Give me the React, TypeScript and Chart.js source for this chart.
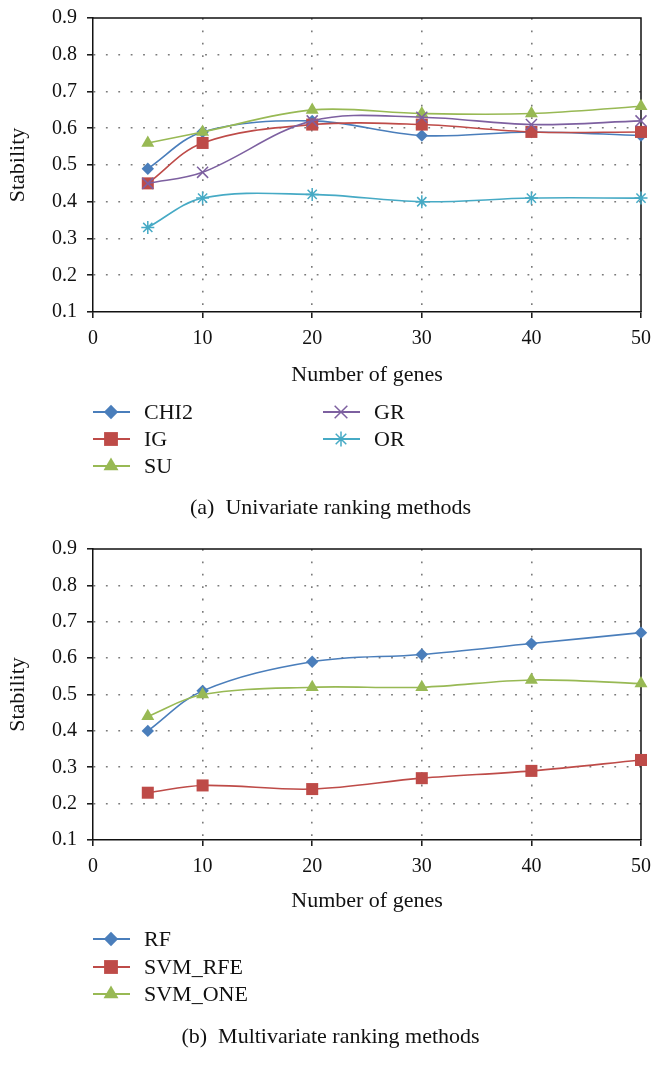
import React, { useEffect, useRef } from 'react';
import { Chart, registerables } from 'chart.js';

Chart.register(...registerables);

// ---------- data ----------
const genes = [5, 10, 20, 30, 40, 50];
const xTickValues = [0, 10, 20, 30, 40, 50];
const yTickValues = [0.1, 0.2, 0.3, 0.4, 0.5, 0.6, 0.7, 0.8, 0.9];

const uniLabels = ['CHI2', 'IG', 'SU', 'GR', 'OR'];
const chi2 = [0.49, 0.59, 0.62, 0.58, 0.59, 0.58];
const ig = [0.45, 0.56, 0.61, 0.61, 0.59, 0.59];
const su = [0.56, 0.59, 0.65, 0.64, 0.64, 0.66];
const gr = [0.45, 0.48, 0.62, 0.63, 0.61, 0.62];
const orv = [0.33, 0.41, 0.42, 0.40, 0.41, 0.41];

const multiLabels = ['RF', 'SVM_RFE', 'SVM_ONE'];
const rf = [0.40, 0.51, 0.59, 0.61, 0.64, 0.67];
const svmRfe = [0.23, 0.25, 0.24, 0.27, 0.29, 0.32];
const svmOne = [0.44, 0.50, 0.52, 0.52, 0.54, 0.53];

const xTitle = 'Number of genes';
const yTitle = 'Stability';
const captionA = '(a)  Univariate ranking methods';
const captionB = '(b)  Multivariate ranking methods';

// ---------- styles ----------
const FONT = "'Liberation Serif', 'Times New Roman', serif";
const BLUE = '#4A7EBB';
const RED = '#BE4B48';
const GREEN = '#98B954';
const PURPLE = '#7D60A0';
const CYAN = '#46AAC5';

type Marker = { style: string; r: number; color: string };
const uniMarkers: Marker[] = [
  { style: 'rectRot', r: 6.2, color: BLUE },
  { style: 'rect', r: 8.5, color: RED },
  { style: 'triangle', r: 7.5, color: GREEN },
  { style: 'crossRot', r: 7.8, color: PURPLE },
  { style: 'star', r: 6.5, color: CYAN },
];
const multiMarkers: Marker[] = [
  { style: 'rectRot', r: 6.2, color: BLUE },
  { style: 'rect', r: 8.5, color: RED },
  { style: 'triangle', r: 7.5, color: GREEN },
];
const LEGEND_MARKER_SCALE = 1.15;

Chart.defaults.font.family = FONT;

function drawMarker(ctx: CanvasRenderingContext2D, m: Marker, x: number, y: number, scale: number) {
  const r = m.r * scale;
  ctx.save();
  ctx.fillStyle = m.color;
  ctx.strokeStyle = m.color;
  ctx.lineWidth = 1.5;
  ctx.beginPath();
  if (m.style === 'rectRot') {
    ctx.moveTo(x - r, y);
    ctx.lineTo(x, y - r);
    ctx.lineTo(x + r, y);
    ctx.lineTo(x, y + r);
    ctx.closePath();
    ctx.fill();
  } else if (m.style === 'rect') {
    const s = r * Math.SQRT1_2;
    ctx.rect(x - s, y - s, 2 * s, 2 * s);
    ctx.fill();
  } else if (m.style === 'triangle') {
    let a = 0;
    ctx.moveTo(x + Math.sin(a) * r, y - Math.cos(a) * r);
    a += (2 * Math.PI) / 3;
    ctx.lineTo(x + Math.sin(a) * r, y - Math.cos(a) * r);
    a += (2 * Math.PI) / 3;
    ctx.lineTo(x + Math.sin(a) * r, y - Math.cos(a) * r);
    ctx.closePath();
    ctx.fill();
  } else {
    const d = r * Math.SQRT1_2;
    ctx.moveTo(x - d, y - d);
    ctx.lineTo(x + d, y + d);
    ctx.moveTo(x + d, y - d);
    ctx.lineTo(x - d, y + d);
    if (m.style === 'star') {
      ctx.moveTo(x, y - r);
      ctx.lineTo(x, y + r);
      ctx.moveTo(x - r, y);
      ctx.lineTo(x + r, y);
    }
    ctx.stroke();
  }
  ctx.restore();
}

const framePlugin = {
  id: 'frame',
  beforeDatasetsDraw(chart: any) {
    const { ctx, chartArea: a } = chart;
    ctx.save();
    ctx.strokeStyle = '#111';
    ctx.lineWidth = 1.5;
    ctx.beginPath();
    ctx.moveTo(a.left, a.top);
    ctx.lineTo(a.right, a.top);
    ctx.lineTo(a.right, a.bottom);
    ctx.stroke();
    ctx.restore();
  },
};

type LegendPos = { lineX1: number; lineX2: number; markX: number; textX: number; y: number };

const legendPlugin = {
  id: 'boxLegend',
  afterDraw(chart: any, _args: any, opts: any) {
    const { ctx } = chart;
    const positions: LegendPos[] = opts.positions || [];
    const markers: Marker[] = opts.markers || [];
    chart.data.datasets.forEach((ds: any, i: number) => {
      const p = positions[i];
      const m = markers[i];
      if (!p || !m) return;
      ctx.save();
      ctx.strokeStyle = m.color;
      ctx.lineWidth = 1.8;
      ctx.beginPath();
      ctx.moveTo(p.lineX1, p.y);
      ctx.lineTo(p.lineX2, p.y);
      ctx.stroke();
      ctx.restore();
      drawMarker(ctx, m, p.markX, p.y, LEGEND_MARKER_SCALE);
      ctx.save();
      ctx.fillStyle = '#111';
      ctx.font = `22px ${FONT}`;
      ctx.textAlign = 'left';
      ctx.textBaseline = 'middle';
      ctx.fillText(ds.label, p.textX, p.y + 1);
      ctx.restore();
    });
  },
};

function legendPositions(rowsY: number[], cols: number[][]): LegendPos[] {
  const colX = [
    { lineX1: 93, lineX2: 130, markX: 111, textX: 144 },
    { lineX1: 323, lineX2: 360, markX: 341, textX: 374 },
  ];
  return cols.map(([c, r]) => ({ ...colX[c], y: rowsY[r] }));
}

function makeConfig(
  labels: string[],
  series: number[][],
  markers: Marker[],
  positions: LegendPos[],
  padTop: number,
  xAxisHeight: number,
  padBottom: number
): any {
  const n = series.length;
  const datasets = series.map((vals, i) => {
    const m = markers[i];
    const lineStyle = m.style === 'crossRot' || m.style === 'star';
    return {
      label: labels[i],
      data: genes.map((g, k) => ({ x: g, y: vals[k] })),
      borderColor: m.color,
      backgroundColor: m.color,
      borderWidth: 1.6,
      pointStyle: m.style,
      pointRadius: m.r,
      pointHoverRadius: m.r,
      pointBackgroundColor: m.color,
      pointBorderColor: m.color,
      pointBorderWidth: lineStyle ? 1.5 : 0,
      tension: 0.35,
      fill: false,
      clip: false,
      order: n - i,
    };
  });
  const tickFont = { family: FONT, size: 20 };
  const titleFont = { family: FONT, size: 22 };
  const clear = 'rgba(0,0,0,0)';
  const gridGray = '#7a7a7a';
  return {
    type: 'line',
    data: { datasets },
    options: {
      animation: false,
      responsive: false,
      maintainAspectRatio: false,
      events: [],
      layout: { autoPadding: false, padding: { top: padTop, right: 20, left: 0, bottom: padBottom } },
      plugins: {
        legend: { display: false },
        tooltip: { enabled: false },
        boxLegend: { positions, markers },
      },
      scales: {
        x: {
          type: 'linear',
          min: xTickValues[0],
          max: xTickValues[xTickValues.length - 1],
          afterBuildTicks: (s: any) => {
            s.ticks = xTickValues.map((v) => ({ value: v }));
          },
          afterFit: (s: any) => {
            s.height = xAxisHeight;
            s.paddingLeft = 0;
            s.paddingRight = 0;
          },
          ticks: { font: tickFont, color: '#111', padding: 9, maxRotation: 0, autoSkip: false },
          grid: {
            color: (c: any) =>
              c.tick && (c.tick.value === xTickValues[0] || c.tick.value === xTickValues[xTickValues.length - 1])
                ? clear
                : gridGray,
            lineWidth: 1.6,
            tickColor: '#111',
            tickLength: 6,
            tickWidth: 1.5,
          },
          border: { display: true, color: '#111', width: 1.5, dash: [1.8, 10.6] },
          title: { display: true, text: xTitle, font: titleFont, color: '#111', padding: 0 },
        },
        y: {
          type: 'linear',
          min: yTickValues[0],
          max: yTickValues[yTickValues.length - 1],
          afterBuildTicks: (s: any) => {
            s.ticks = yTickValues.map((v) => ({ value: v }));
          },
          afterFit: (s: any) => {
            s.width = 93;
            s.paddingTop = 0;
            s.paddingBottom = 0;
          },
          ticks: {
            font: tickFont,
            color: '#111',
            padding: 10,
            callback: (v: any) => Number(v).toFixed(1),
          },
          grid: {
            color: (c: any) =>
              c.tick &&
              (Math.abs(c.tick.value - yTickValues[0]) < 1e-6 ||
                Math.abs(c.tick.value - yTickValues[yTickValues.length - 1]) < 1e-6)
                ? clear
                : gridGray,
            lineWidth: 1.6,
            tickColor: '#111',
            tickLength: 6,
            tickWidth: 1.5,
          },
          border: { display: true, color: '#111', width: 1.5, dash: [1.8, 10.6] },
          title: { display: true, text: yTitle, font: titleFont, color: '#111', padding: { top: 5, bottom: 0 } },
        },
      },
    },
    plugins: [framePlugin, legendPlugin],
  };
}

function ChartCanvas({ config, top, height }: { config: any; top: number; height: number }) {
  const ref = useRef<HTMLCanvasElement>(null);
  useEffect(() => {
    const chart = new Chart(ref.current as HTMLCanvasElement, config);
    return () => chart.destroy();
  }, [config]);
  return (
    <canvas
      ref={ref}
      width={661}
      height={height}
      style={{ position: 'absolute', left: 0, top, width: 661, height }}
    />
  );
}

const configA = makeConfig(
  uniLabels,
  [chi2, ig, su, gr, orv],
  uniMarkers,
  legendPositions([412, 439, 466], [[0, 0], [0, 1], [0, 2], [1, 0], [1, 1]]),
  18,
  76,
  530 - 312 - 76
);

const configB = makeConfig(
  multiLabels,
  [rf, svmRfe, svmOne],
  multiMarkers,
  legendPositions([409, 437, 464], [[0, 0], [0, 1], [0, 2]]),
  19,
  74,
  537 - 310 - 74
);

const captionStyle: React.CSSProperties = {
  position: 'absolute',
  left: 0,
  width: 661,
  textAlign: 'center',
  fontFamily: FONT,
  fontSize: 22,
  lineHeight: '26px',
  color: '#111',
  whiteSpace: 'pre',
};

export default function App() {
  return (
    <div style={{ position: 'absolute', left: 0, top: 0, width: 661, height: 1067, background: '#fff' }}>
      <ChartCanvas config={configA} top={0} height={530} />
      <div style={{ ...captionStyle, top: 494 }}>{captionA}</div>
      <ChartCanvas config={configB} top={530} height={537} />
      <div style={{ ...captionStyle, top: 1023 }}>{captionB}</div>
    </div>
  );
}
